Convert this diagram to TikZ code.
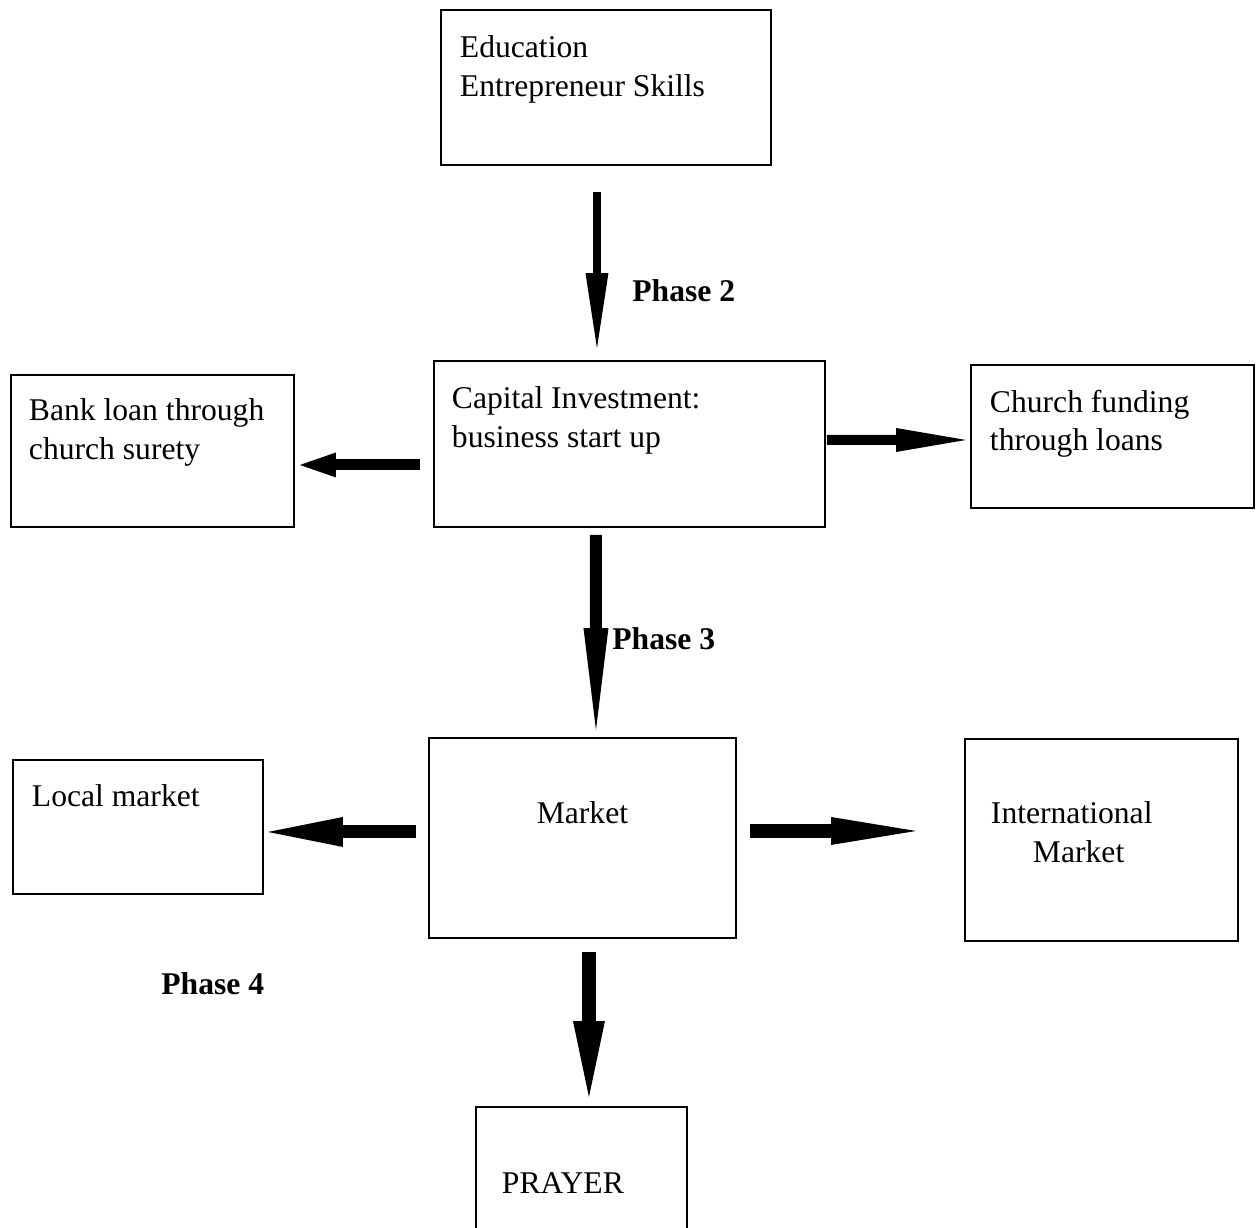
\documentclass[tikz,border=0pt]{standalone}
\usepackage{fontspec}
\setmainfont{Liberation Serif}
\usetikzlibrary{arrows.meta,calc}
\newdimen\px
\px=0.02cm
\newcommand{\cellbox}[5]{\parbox[t][#2][t]{#1}{\vspace*{#4}\raggedright\leftskip=#3\relax#5}}

\begin{document}
\begin{tikzpicture}[x=0.02cm, y=-0.02cm,
  box/.style={draw, line width=1.1pt, anchor=north west, inner sep=0pt, font=\fontsize{18}{22}\selectfont},
  phase/.style={anchor=base west, inner sep=0pt, font=\fontsize{18}{22}\selectfont\bfseries},
  fat/.style n args={3}{line width=#1cm, -{Triangle[width=#2cm,length=#3cm,line width=0pt]}}]
  \useasboundingbox (0,0) rectangle (1259,1228);
  \node[box] (edu) at (440,9) {\cellbox{330\px}{155\px}{19\px}{26\px}{Education\\Entrepreneur Skills}};
  \node[box] (cap) at (433,360) {\cellbox{391\px}{166\px}{18\px}{26\px}{Capital Investment:\\business start up}};
  \node[box] (bank) at (10,374) {\cellbox{283\px}{152\px}{18\px}{24\px}{Bank loan through\\church surety}};
  \node[box] (church) at (970,364) {\cellbox{283\px}{143\px}{19\px}{25\px}{Church funding\\through loans}};
  \node[box] (mkt) at (428,737) {\cellbox{307\px}{200\px}{0pt}{64\px}{\centering Market}};
  \node[box] (local) at (12,759) {\cellbox{250\px}{134\px}{19\px}{25\px}{Local market}};
  \node[box] (intl) at (964,738) {\cellbox{273\px}{202\px}{26\px}{63\px}{International\\\hspace*{42\px}Market}};
  \node[box] (prayer) at (475,1106) {\cellbox{211\px}{124\px}{26\px}{66\px}{PRAYER}};
  \draw[fat={0.16}{0.46}{1.5}] ($(edu.south)+(-9,26)$) -- ($(cap.north)+(-32.5,-12)$);
  \draw[fat={0.24}{0.5}{2.04}] ($(cap.south)+(-33.5,7)$) -- ($(mkt.north)+(13.5,-7)$);
  \draw[fat={0.22}{0.5}{0.72}] ($(cap.west)+(-13,21)$) -- ($(bank.east)+(5,14)$);
  \draw[fat={0.2}{0.48}{1.4}] ($(cap.east)+(1,-4)$) -- ($(church.west)+(-4,3.5)$);
  \draw[fat={0.26}{0.6}{1.5}] ($(mkt.west)+(-12,-6)$) -- ($(local.east)+(4,5)$);
  \draw[fat={0.28}{0.56}{1.7}] ($(mkt.east)+(13,-7)$) -- ($(intl.west)+(-48,-9)$);
  \draw[fat={0.28}{0.64}{1.52}] ($(mkt.south)+(6.5,13)$) -- ($(prayer.north)+(7.5,-9)$);
  \node[phase] (ph2) at (632,301) {Phase 2};
  \node[phase] (ph3) at (612,649) {Phase 3};
  \node[phase] (ph4) at (161,994) {Phase 4};
\end{tikzpicture}
\end{document}
